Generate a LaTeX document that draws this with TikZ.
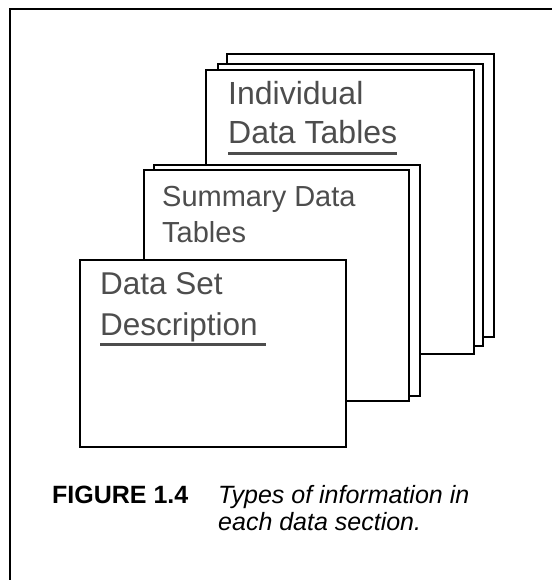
\documentclass[tikz,border=0pt]{standalone}
\usepackage{fontspec}
\setmainfont{Liberation Sans}
\definecolor{textgray}{HTML}{4D4D4D}

\begin{document}
\begin{tikzpicture}[x=1pt,y=-1pt,
    card/.style={draw=black, fill=white, line width=2pt, anchor=north west, inner sep=0pt},
    label/.style={anchor=base west, inner sep=0pt, text=textgray},
    uline/.style={draw=textgray, line width=3pt},
    caption/.style={anchor=base west, inner sep=0pt, font=\fontsize{25}{30}\selectfont}]
            \useasboundingbox (0,0) rectangle (552,580);

            %Frame
            \draw[line width=2pt] (10,580) -- (10,9) -- (552,9);

            %Boxes
            \node[card, minimum width=267, minimum height=283] at (226,53)  (ind3) {};
            \node[card, minimum width=265, minimum height=282] at (217,63)  (ind2) {};
            \node[card, minimum width=268, minimum height=284] at (205,69)  (ind1) {};
            \node[card, minimum width=266, minimum height=231] at (153,164) (sum2) {};
            \node[card, minimum width=265, minimum height=231] at (143,169) (sum1) {};
            \node[card, minimum width=266, minimum height=187] at (79,259)  (dsd)  {};

            %Labels
            \node[label, font=\fontsize{32}{38}\selectfont] at (228,105) (indA) {Individual};
            \node[label, font=\fontsize{32}{38}\selectfont] at (228,143) (indB) {Data Tables};
            \node[label, font=\fontsize{29}{35}\selectfont] at (162,206) (sumA) {Summary Data};
            \node[label, font=\fontsize{29}{35}\selectfont] at (162,242) (sumB) {Tables};
            \node[label, font=\fontsize{31.5}{38}\selectfont] at (100,294) (dsdA) {Data Set};
            \node[label, font=\fontsize{31.5}{38}\selectfont] at (100,335) (dsdB) {Description};

            %Underlines
            \draw[uline] ([yshift=-11pt]indB.base west) -- ([yshift=-11pt]indB.base east);
            \draw[uline] ([yshift=-9pt]dsdB.base west) -- ([yshift=-9pt,xshift=8pt]dsdB.base east);

            %Caption
            \node[caption, font=\fontsize{25}{30}\selectfont\bfseries] at (52,503) (fig) {FIGURE 1.4};
            \node[caption, font=\fontsize{25}{30}\selectfont\itshape] at (218,503) (capA) {Types of information in};
            \node[caption, font=\fontsize{25}{30}\selectfont\itshape] at (218,530) (capB) {each data section.};
        \end{tikzpicture}
\end{document}
